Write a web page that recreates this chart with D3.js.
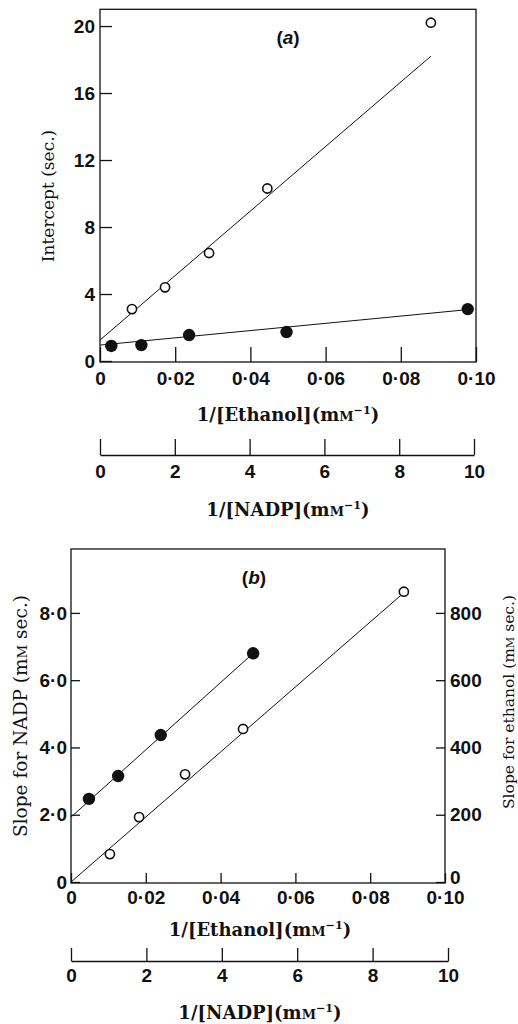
<!DOCTYPE html>
<html>
<head>
<meta charset="utf-8">
<script src="https://cdn.jsdelivr.net/npm/d3@7"></script>
<style>
  html, body { margin: 0; padding: 0; background: #fff; }
  svg { display: block; }
  .tick text { font-family: "Liberation Sans", Arial, sans-serif; font-weight: bold; font-size: 19px; fill: #111; }
  .serif { font-family: "DejaVu Serif", "Liberation Serif", serif; fill: #111; }
</style>
</head>
<body>
<svg id="chart" width="518" height="1024"></svg>
<script>
// ---- Panel (a): intercepts of the primary plots ----
const aOpenX = [0.0085, 0.0173, 0.029, 0.0445, 0.088];
const aOpenY = [3.1, 4.4, 6.45, 10.3, 20.2];
const aFilledX = [0.003, 0.011, 0.0237, 0.0496, 0.0978];
const aFilledY = [0.9, 0.95, 1.55, 1.73, 3.1];
// fitted lines: [x start, y start, x end, y end]
const aOpenLine = [0, 1.25, 0.088, 18.2];
const aFilledLine = [0, 0.95, 0.097, 3.05];

// ---- Panel (b): slopes of the primary plots ----
const bOpenX = [0.0104, 0.0182, 0.0305, 0.046, 0.089];
const bOpenY = [0.83, 1.93, 3.2, 4.55, 8.63];
const bFilledX = [0.0048, 0.0126, 0.024, 0.0487];
const bFilledY = [2.47, 3.15, 4.37, 6.8];
const bOpenLine = [0, 0, 0.089, 8.6];
const bFilledLine = [0, 1.93, 0.0487, 6.8];

// ---- Axis ticks and labels ----
const ethanolTicks = [0, 0.02, 0.04, 0.06, 0.08, 0.10];
const ethanolLabels = ["0", "0·02", "0·04", "0·06", "0·08", "0·10"];
const nadpTicks = [0, 2, 4, 6, 8, 10];
const nadpLabels = ["0", "2", "4", "6", "8", "10"];
const interceptTicks = [0, 4, 8, 12, 16, 20];
const interceptLabels = ["0", "4", "8", "12", "16", "20"];
const slopeNadpTicks = [0, 2, 4, 6, 8];
const slopeNadpLabels = ["0", "2·0", "4·0", "6·0", "8·0"];
const slopeEthTicks = [0, 200, 400, 600, 800];
const slopeEthLabels = ["0", "200", "400", "600", "800"];

const svg = d3.select("#chart");
const ink = "#111";

function labelFmt(ticks, labels) {
  return d => labels[ticks.indexOf(d)];
}

// Writes "prefix(mM⁻¹)"-style text with small-cap M and superscript
function unitText(sel, prefix, size, withInverse, suffix) {
  sel.append("tspan").text(prefix + "(m");
  sel.append("tspan").attr("font-size", size * 0.72).text("M");
  if (withInverse) {
    sel.append("tspan").attr("font-size", size * 0.62).attr("dy", -size * 0.38).text("−1");
    sel.append("tspan").attr("dy", size * 0.38).text(")");
  } else {
    sel.append("tspan").text(suffix);
  }
}

function styleAxis(g) {
  g.selectAll("path.domain").attr("stroke", ink).attr("stroke-width", 1.3);
  g.selectAll(".tick line").attr("stroke", ink).attr("stroke-width", 1.3);
}

function drawPoints(g, xs, ys, x, y, filled) {
  g.selectAll(null).data(xs.map((v, i) => [v, ys[i]])).enter().append("circle")
    .attr("cx", d => x(d[0])).attr("cy", d => y(d[1]))
    .attr("r", filled ? 6.2 : 4.6)
    .attr("fill", filled ? ink : "#fff")
    .attr("stroke", ink).attr("stroke-width", filled ? 0 : 1.6);
}

function drawLine(g, seg, x, y) {
  g.append("line")
    .attr("x1", x(seg[0])).attr("y1", y(seg[1]))
    .attr("x2", x(seg[2])).attr("y2", y(seg[3]))
    .attr("stroke", ink).attr("stroke-width", 1);
}

function panelTag(g, cx, cy, letter) {
  const t = g.append("text").attr("x", cx).attr("y", cy).attr("text-anchor", "middle")
    .attr("font-family", "Liberation Sans, Arial, sans-serif").attr("font-weight", "bold")
    .attr("font-size", 19).attr("fill", ink);
  t.append("tspan").text("(");
  t.append("tspan").attr("font-style", "italic").text(letter);
  t.append("tspan").text(")");
}

// ================= Panel (a) =================
{
  const x = d3.scaleLinear().domain([0, 0.10]).range([100, 476]);
  const y = d3.scaleLinear().domain([0, 21]).range([361, 9.3]);
  const g = svg.append("g");

  g.append("rect").attr("x", x(0)).attr("y", y(21))
    .attr("width", x(0.10) - x(0)).attr("height", y(0) - y(21) + 1)
    .attr("fill", "none").attr("stroke", ink).attr("stroke-width", 1.3);

  const yAx = g.append("g").attr("transform", `translate(${x(0)},0)`)
    .call(d3.axisLeft(y).tickValues(interceptTicks).tickFormat(labelFmt(interceptTicks, interceptLabels))
      .tickSizeInner(-12).tickSizeOuter(0).tickPadding(5));
  yAx.select("path.domain").remove();
  styleAxis(yAx);

  const xAx = g.append("g").attr("transform", `translate(0,${y(0) + 1})`)
    .call(d3.axisBottom(x).tickValues(ethanolTicks).tickFormat(labelFmt(ethanolTicks, ethanolLabels))
      .tickSizeInner(-15).tickSizeOuter(0).tickPadding(10));
  xAx.select("path.domain").remove();
  styleAxis(xAx);

  // second abscissa: 1/[NADP]
  const xN = d3.scaleLinear().domain([0, 10]).range([100, 474]);
  const nAx = g.append("g").attr("transform", "translate(0,455)")
    .call(d3.axisBottom(xN).tickValues(nadpTicks).tickFormat(labelFmt(nadpTicks, nadpLabels))
      .tickSizeInner(-16).tickSizeOuter(0).tickPadding(10));
  styleAxis(nAx);

  drawLine(g, aOpenLine, x, y);
  drawLine(g, aFilledLine, x, y);
  drawPoints(g, aOpenX, aOpenY, x, y, false);
  drawPoints(g, aFilledX, aFilledY, x, y, true);

  const t1 = g.append("text").attr("class", "serif").attr("x", 288).attr("y", 421)
    .attr("text-anchor", "middle").attr("font-size", 18).attr("font-weight", "bold");
  unitText(t1, "1/[Ethanol]", 18, true);
  const t2 = g.append("text").attr("class", "serif").attr("x", 288).attr("y", 516)
    .attr("text-anchor", "middle").attr("font-size", 18).attr("font-weight", "bold");
  unitText(t2, "1/[NADP]", 18, true);

  g.append("text").attr("class", "serif").attr("transform", "translate(54,196) rotate(-90)")
    .attr("text-anchor", "middle").attr("font-size", 17)
    .text("Intercept (sec.)");

  panelTag(g, 288, 44, "a");
}

// ================= Panel (b) =================
{
  const x = d3.scaleLinear().domain([0, 0.10]).range([71, 445]);
  const y = d3.scaleLinear().domain([0, 9.9]).range([882, 549]);
  const y2 = d3.scaleLinear().domain([0, 990]).range([882, 549]);
  const g = svg.append("g");

  g.append("rect").attr("x", x(0)).attr("y", y(9.9))
    .attr("width", x(0.10) - x(0)).attr("height", y(0) - y(9.9) + 1)
    .attr("fill", "none").attr("stroke", ink).attr("stroke-width", 1.3);

  const yAx = g.append("g").attr("transform", `translate(${x(0)},0)`)
    .call(d3.axisLeft(y).tickValues(slopeNadpTicks).tickFormat(labelFmt(slopeNadpTicks, slopeNadpLabels))
      .tickSizeInner(-9).tickSizeOuter(0).tickPadding(4));
  yAx.select("path.domain").remove();
  styleAxis(yAx);

  const y2Ax = g.append("g").attr("transform", `translate(${x(0.10)},0)`)
    .call(d3.axisRight(y2).tickValues(slopeEthTicks).tickFormat(labelFmt(slopeEthTicks, slopeEthLabels))
      .tickSizeInner(-9).tickSizeOuter(0).tickPadding(5));
  y2Ax.select("path.domain").remove();
  styleAxis(y2Ax);
  y2Ax.selectAll(".tick text").attr("dy", (d) => d === 0 ? "0.1em" : "0.32em");

  const xAx = g.append("g").attr("transform", `translate(0,${y(0) + 1})`)
    .call(d3.axisBottom(x).tickValues(ethanolTicks).tickFormat(labelFmt(ethanolTicks, ethanolLabels))
      .tickSizeInner(-10).tickSizeOuter(0).tickPadding(8));
  xAx.select("path.domain").remove();
  styleAxis(xAx);

  const xN = d3.scaleLinear().domain([0, 10]).range([71, 448]);
  const nAx = g.append("g").attr("transform", "translate(0,961)")
    .call(d3.axisBottom(xN).tickValues(nadpTicks).tickFormat(labelFmt(nadpTicks, nadpLabels))
      .tickSizeInner(-13).tickSizeOuter(0).tickPadding(8));
  styleAxis(nAx);

  drawLine(g, bOpenLine, x, y);
  drawLine(g, bFilledLine, x, y);
  drawPoints(g, bOpenX, bOpenY, x, y, false);
  drawPoints(g, bFilledX, bFilledY, x, y, true);

  const t1 = g.append("text").attr("class", "serif").attr("x", 260).attr("y", 936)
    .attr("text-anchor", "middle").attr("font-size", 18).attr("font-weight", "bold");
  unitText(t1, "1/[Ethanol]", 18, true);
  const t2 = g.append("text").attr("class", "serif").attr("x", 260).attr("y", 1019)
    .attr("text-anchor", "middle").attr("font-size", 18).attr("font-weight", "bold");
  unitText(t2, "1/[NADP]", 18, true);

  const l1 = g.append("text").attr("class", "serif").attr("transform", "translate(27,716) rotate(-90)")
    .attr("text-anchor", "middle").attr("font-size", 18.5);
  unitText(l1, "Slope for NADP ", 18.5, false, " sec.)");
  const l2 = g.append("text").attr("class", "serif").attr("transform", "translate(514,702) rotate(-90)")
    .attr("text-anchor", "middle").attr("font-size", 15.5);
  unitText(l2, "Slope for ethanol ", 15.5, false, " sec.)");

  panelTag(g, 254, 584, "b");
}
</script>
</body>
</html>
